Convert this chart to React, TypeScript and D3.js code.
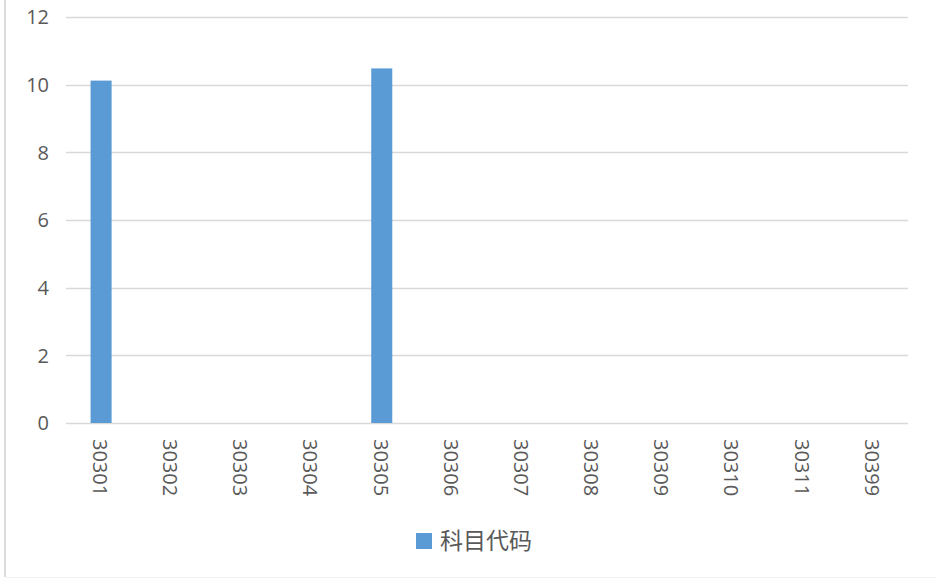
import * as d3 from 'd3';
import * as React from 'react';

const WIDTH = 937;
const HEIGHT = 579;

const categories = ['30301', '30302', '30303', '30304', '30305', '30306', '30307', '30308', '30309', '30310', '30311', '30399'];
const values = [10.12, 0, 0, 0, 10.48, 0, 0, 0, 0, 0, 0, 0];
const yTicks = [0, 2, 4, 6, 8, 10, 12];
const seriesName = '科目代码';

const margin = { left: 66, right: 29, top: 17, bottom: 156 };
const FONT = '"Open Sans", "Noto Sans", sans-serif';
const TEXT_COLOR = '#595959';
const BAR_COLOR = '#5B9BD5';

export default function App() {
  const x = d3
    .scaleBand<string>()
    .domain(categories)
    .range([margin.left, WIDTH - margin.right])
    .paddingInner(0.7)
    .paddingOuter(0.35);
  const y = d3
    .scaleLinear()
    .domain([0, 12])
    .range([HEIGHT - margin.bottom, margin.top]);

  return (
    <svg
      width={WIDTH}
      height={HEIGHT}
      style={{ position: 'absolute', left: 0, top: 0, background: '#fff' }}
    >
      {/* chart border, partly cropped */}
      <line x1={5} x2={5} y1={0} y2={577} stroke="#dcdcdc" strokeWidth={2} />
      <line x1={6} x2={WIDTH} y1={577.5} y2={577.5} stroke="#f3f3f3" />

      {yTicks.map(t => (
        <g key={t}>
          <line
            x1={margin.left}
            x2={WIDTH - margin.right}
            y1={Math.round(y(t)) + 0.5}
            y2={Math.round(y(t)) + 0.5}
            stroke="#d9d9d9"
            strokeWidth={1.3}
          />
          <text
            x={49}
            y={y(t)}
            dy="0.36em"
            textAnchor="end"
            fontFamily={FONT}
            fontSize={20}
            fill={TEXT_COLOR}
          >
            {t}
          </text>
        </g>
      ))}

      {categories.map((c, i) => (
        <rect
          key={c}
          x={x(c) as number}
          y={y(values[i])}
          width={x.bandwidth()}
          height={y(0) - y(values[i])}
          fill={BAR_COLOR}
        />
      ))}

      {categories.map(c => {
        const cx = (x(c) as number) + x.bandwidth() / 2;
        return (
          <text
            key={c}
            transform={`translate(${cx - 1},${439}) rotate(90)`}
            dy="0.36em"
            textAnchor="start"
            fontFamily={FONT}
            fontSize={20}
            fill={TEXT_COLOR}
          >
            {c}
          </text>
        );
      })}

      <rect x={416} y={533} width={16} height={16} fill={BAR_COLOR} />
      <text
        x={440}
        y={541}
        dy="0.36em"
        fontFamily='"Noto Sans CJK SC", sans-serif'
        fontSize={23}
        fill={TEXT_COLOR}
      >
        {seriesName}
      </text>
    </svg>
  );
}
